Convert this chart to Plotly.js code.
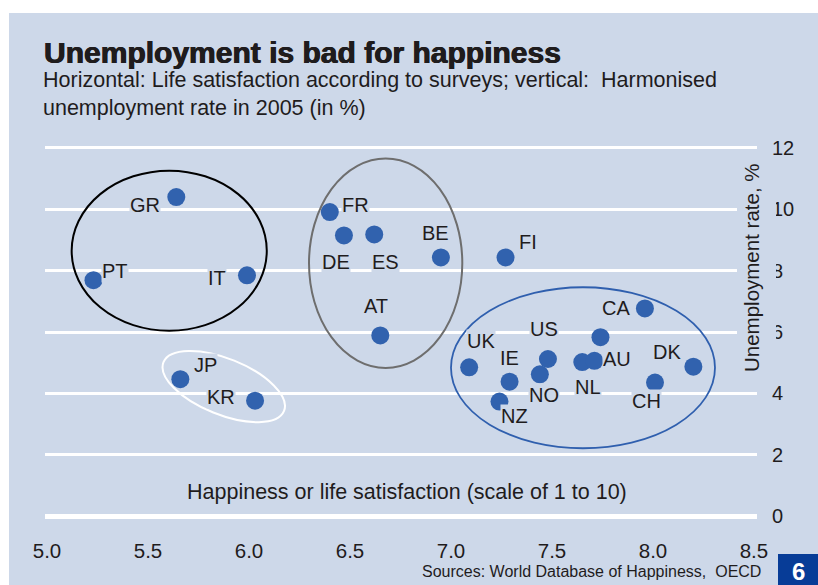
<!DOCTYPE html>
<html><head><meta charset="utf-8">
<script src="https://cdn.plot.ly/plotly-3.0.1.min.js"></script>
<style>html,body{margin:0;padding:0;background:#fff}</style>
</head><body><div id="chart" style="width:818px;height:585px"></div>
<script>
// ---- data ----
const countries = ['GR','PT','IT','JP','KR','FR','DE','ES','BE','FI','AT','UK','IE','NZ','US','NO','NL','AU','SE','CA','DK','CH'];
const pointLabels = ['GR','PT','IT','JP','KR','FR','DE','ES','BE','FI','AT','UK','IE','NZ','US','NO','NL','AU','','CA','DK','CH'];
const lifeSatisfaction = [5.64,5.23,5.99,5.66,6.03,6.40,6.47,6.62,6.95,7.27,6.65,7.09,7.29,7.24,7.48,7.44,7.65,7.71,7.74,7.96,8.20,8.01];
const unemploymentRate = [10.40,7.69,7.85,4.46,3.76,9.91,9.15,9.18,8.43,8.43,5.89,4.85,4.38,3.73,5.12,4.62,5.02,5.06,5.83,6.77,4.87,4.35];
const xTickVals = [5.0,5.5,6.0,6.5,7.0,7.5,8.0,8.5];
const xTickText = ['5.0','5.5','6.0','6.5','7.0','7.5','8.0','8.5'];
const yTickVals = [0,2,4,6,8,10,12];
const yTickText = ['0','2','4','6','8','10','12'];

// ---- label placement (pixel offsets from the dot: dx right, dy down) ----
const labelOffsets = {
  GR:[-31,8], PT:[22,-9], IT:[-30,3], JP:[25,-14], KR:[-34,-4], FR:[26,-7], DE:[-8,27], ES:[11,28],
  BE:[-5,-24], FI:[22,-15], AT:[-4,-29], UK:[12,-26], IE:[0,-24], NZ:[15,14], US:[-4,-30], NO:[4,21],
  NL:[6,25], AU:[23,-2], CA:[-29,0], DK:[-26,-15], CH:[-9,18]
};

// ---- style ----
const BG = '#cdd8e9';
const DOT = '#3162ae';
const TXT = '#1f1c1d';
const FONT = 'Liberation Sans, Arial, sans-serif';
const W = 818, H = 585;
const L = 45, R = 757, T = 146, B = 520;
const px = x => (x - L) / (R - L);
const py = y => (B - y) / (B - T);

const annotations = [];
pointLabels.forEach((lab, i) => {
  if (!lab) return;
  const o = labelOffsets[lab];
  annotations.push({
    x: lifeSatisfaction[i], y: unemploymentRate[i], xref: 'x', yref: 'y',
    text: lab, showarrow: false, xshift: o[0], yshift: -o[1],
    font: {family: FONT, size: 20, color: TXT}, bgcolor: BG, borderpad: 0
  });
});

annotations.push(
  {xref:'paper', yref:'paper', x: px(42), y: py(52), xanchor:'left', yanchor:'middle',
   text:'<b>Unemployment is bad for happiness</b>', showarrow:false,
   font:{family:FONT, size:30, color:TXT, shadow:'0.6px 0 0 #1f1c1d, -0.4px 0 0 #1f1c1d'}},
  {xref:'paper', yref:'paper', x: px(41), y: py(94), xanchor:'left', yanchor:'middle', align:'left',
   text:'Horizontal: Life satisfaction according to surveys; vertical:\u00a0 Harmonised<br>unemployment rate in 2005 (in %)',
   showarrow:false, font:{family:FONT, size:21.5, color:TXT}},
  {xref:'paper', yref:'paper', x: px(407), y: py(492), xanchor:'center', yanchor:'middle',
   text:'Happiness or life satisfaction (scale of 1 to 10)', showarrow:false,
   font:{family:FONT, size:21.5, color:TXT}},
  {xref:'paper', yref:'paper', x: px(751), y: py(268), xanchor:'center', yanchor:'middle', textangle:-90,
   text:'Unemployment rate, %', showarrow:false, font:{family:FONT, size:20.5, color:TXT}},
  {xref:'paper', yref:'paper', x: px(763), y: py(571), xanchor:'right', yanchor:'middle',
   text:'Sources: World Database of Happiness,\u00a0 OECD', showarrow:false,
   font:{family:FONT, size:16, color:TXT}},
  {xref:'paper', yref:'paper', x: px(798), y: py(571), xanchor:'center', yanchor:'middle',
   text:'<b>6</b>', showarrow:false, font:{family:FONT, size:24, color:'#ffffff'}}
);

// rotated ellipse as cubic Bezier path (pixel units around an anchor)
function ellipsePath(a, b, deg) {
  const t = deg * Math.PI / 180, k = 0.5523;
  const u = [Math.cos(t), -Math.sin(t)], v = [Math.sin(t), Math.cos(t)];
  const P = (ca, cb) => [(ca * a * u[0] + cb * b * v[0]).toFixed(2), (ca * a * u[1] + cb * b * v[1]).toFixed(2)].join(',');
  return 'M' + P(1,0) +
    ' C' + P(1,k) + ' ' + P(k,1) + ' ' + P(0,1) +
    ' C' + P(-k,1) + ' ' + P(-1,k) + ' ' + P(-1,0) +
    ' C' + P(-1,-k) + ' ' + P(-k,-1) + ' ' + P(0,-1) +
    ' C' + P(k,-1) + ' ' + P(1,-k) + ' ' + P(1,0) + ' Z';
}

const shapes = [
  {type:'rect', xref:'paper', yref:'paper', x0: px(9), x1: px(818), y0: py(13), y1: py(585),
   fillcolor: BG, line:{width:0}, layer:'below'},
  {type:'rect', xref:'paper', yref:'paper', x0: px(778), x1: px(818), y0: py(554), y1: py(585),
   fillcolor:'#073c97', line:{width:0}, layer:'above'},
  {type:'rect', xref:'paper', yref:'paper', x0: px(737), x1: px(776), y0: py(160), y1: py(377),
   fillcolor: BG, line:{width:0}, layer:'above'},
  {type:'circle', xref:'x', yref:'y', x0:5.122, x1:6.088, y0:6.04, y1:11.26,
   line:{color:'#000000', width:2}, layer:'above'},
  {type:'circle', xref:'x', yref:'y', x0:6.297, x1:7.056, y0:4.83, y1:11.66,
   line:{color:'#6e6e6e', width:2}, layer:'above'},
  {type:'circle', xref:'x', yref:'y', x0:7.0, x1:8.307, y0:2.21, y1:7.46,
   line:{color:'#2f5fae', width:1.8}, layer:'above'},
  {type:'path', xref:'x', yref:'y', xsizemode:'pixel', ysizemode:'pixel', xanchor:5.875, yanchor:4.22,
   path: ellipsePath(65, 28, 22), line:{color:'#ffffff', width:2}, layer:'above'}
];

const trace = {
  type:'scatter', mode:'markers', x: lifeSatisfaction, y: unemploymentRate, text: countries,
  marker:{size:18, color:DOT, line:{width:0}}, hoverinfo:'text+x+y', cliponaxis:false
};

const layout = {
  width: W, height: H,
  margin:{l:L, r:W-R, t:T, b:H-B, pad:0},
  paper_bgcolor:'#ffffff', plot_bgcolor:'rgba(0,0,0,0)',
  showlegend:false,
  font:{family:FONT, color:TXT},
  xaxis:{range:[4.990, 8.515], tickvals:xTickVals, ticktext:xTickText, showgrid:false, zeroline:false,
         showline:false, ticks:'', tickfont:{family:FONT, size:20.5, color:TXT}, ticklabelstandoff:16, fixedrange:true},
  yaxis:{range:[-0.13, 12.065], side:'right', tickvals:yTickVals, ticktext:yTickText,
         showgrid:true, gridcolor:'#ffffff', gridwidth:3, zeroline:true, zerolinecolor:'#ffffff', zerolinewidth:5,
         showline:false, ticks:'', tickfont:{family:FONT, size:20, color:TXT}, ticklabelstandoff:14, fixedrange:true},
  shapes: shapes,
  annotations: annotations
};

Plotly.newPlot('chart', [trace], layout, {displayModeBar:false, staticPlot:true});
</script></body></html>
